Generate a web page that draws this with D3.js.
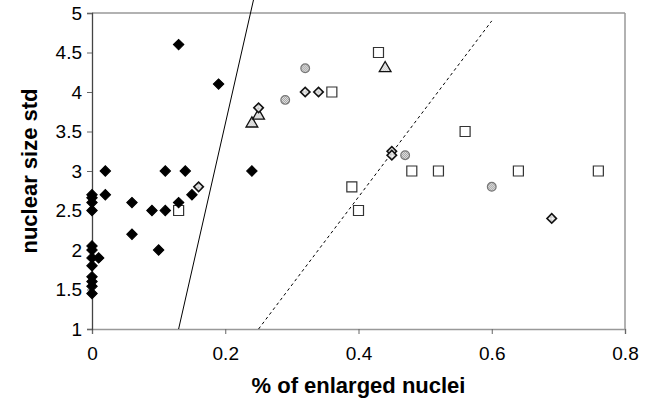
<!DOCTYPE html>
<meta charset="utf-8">
<style>
body { margin: 0; background: #fff; }
svg { display: block; font-family: Arial, "Liberation Sans", sans-serif; }
.tick text { font-size: 19px; fill: #000; }
.title { font-weight: bold; font-size: 22px; }
</style>
<svg width="651" height="419"></svg>
<script src="https://d3js.org/d3.v7.min.js"></script>
<script>

// filled black diamonds
var solidX = [0, 0, 0, 0, 0, 0, 0, 0, 0, 0, 0, 0,
  0.01, 0.02, 0.02, 0.06, 0.06, 0.09, 0.10, 0.11, 0.11, 0.13, 0.13, 0.14, 0.15, 0.19, 0.24];
var solidY = [2.7, 2.66, 2.6, 2.5, 2.05, 2.0, 1.9, 1.8, 1.66, 1.6, 1.54, 1.45,
  1.9, 2.7, 3.0, 2.6, 2.2, 2.5, 2.0, 2.5, 3.0, 2.6, 4.6, 3.0, 2.7, 4.1, 3.0];

// open (hatched) diamonds
var openDiaX = [0.16, 0.25, 0.32, 0.34, 0.45, 0.45, 0.69];
var openDiaY = [2.8, 3.8, 4.0, 4.0, 3.25, 3.2, 2.4];

// triangles
var triX = [0.24, 0.25, 0.44];
var triY = [3.6, 3.7, 4.3];

// circles
var circX = [0.29, 0.32, 0.47, 0.60];
var circY = [3.9, 4.3, 3.2, 2.8];

// open squares
var sqX = [0.13, 0.36, 0.39, 0.40, 0.43, 0.48, 0.52, 0.56, 0.64, 0.76];
var sqY = [2.5, 4.0, 2.8, 2.5, 4.5, 3.0, 3.0, 3.5, 3.0, 3.0];

// separating lines
var solidLine = [[0.13, 1], [0.2425, 5.17]];
var dashLine = [[0.25, 1], [0.6, 4.9]];

var xTicks = [0, 0.2, 0.4, 0.6, 0.8];
var yTicks = [1, 1.5, 2, 2.5, 3, 3.5, 4, 4.5, 5];

var svg = d3.select("svg"),
    margin = {top: 13, right: 26, bottom: 90, left: 92},
    width = +svg.attr("width") - margin.left - margin.right,
    height = +svg.attr("height") - margin.top - margin.bottom;

var defs = svg.append("defs");
function hatch(id, col) {
  var pat = defs.append("pattern")
      .attr("id", id)
      .attr("width", 2).attr("height", 2)
      .attr("patternUnits", "userSpaceOnUse");
  pat.append("rect").attr("width", 2).attr("height", 2).attr("fill", "#fff");
  pat.append("rect").attr("width", 1).attr("height", 1).attr("fill", col);
  pat.append("rect").attr("x", 1).attr("y", 1).attr("width", 1).attr("height", 1).attr("fill", col);
}
hatch("hatch", "#888");
hatch("hatchLight", "#bbb");

var g = svg.append("g").attr("transform", "translate(" + margin.left + "," + margin.top + ")");

var x = d3.scaleLinear().domain([0, 0.8]).range([0, width]);
var y = d3.scaleLinear().domain([1, 5]).range([height, 0]);

// frame
g.append("line").attr("x1", 0).attr("x2", width).attr("y1", 0).attr("y2", 0)
    .attr("stroke", "#999").attr("stroke-width", 1.5);
g.append("line").attr("x1", width).attr("x2", width).attr("y1", 0).attr("y2", height)
    .attr("stroke", "#999").attr("stroke-width", 1.5);

var xAxis = g.append("g")
    .attr("transform", "translate(0," + height + ")")
    .call(d3.axisBottom(x).tickValues(xTicks).tickSize(5).tickPadding(13)
      .tickFormat(function(d){ return d === 0 ? "0" : d3.format(".1f")(d); }));
xAxis.select(".domain").attr("stroke", "#999").attr("stroke-width", 1.5);
xAxis.selectAll(".tick line").attr("stroke", "#666");

var yAxis = g.append("g")
    .call(d3.axisLeft(y).tickValues(yTicks).tickSize(5).tickPadding(5)
      .tickFormat(function(d){ return String(d); }));
yAxis.select(".domain").attr("stroke", "#444").attr("stroke-width", 1.3);
yAxis.selectAll(".tick line").attr("stroke", "#666");

// lines
var line = d3.line().x(function(d){ return x(d[0]); }).y(function(d){ return y(d[1]); });
g.append("path").attr("d", line(solidLine)).attr("stroke", "#000").attr("stroke-width", 1).attr("fill", "none");
g.append("path").attr("d", line(dashLine)).attr("stroke", "#000").attr("stroke-width", 1)
    .attr("stroke-dasharray", "3,3").attr("fill", "none");

function plot(xs, ys, type, size, rot, fill, stroke, sw) {
  var sym = d3.symbol().type(type).size(size);
  g.selectAll(null).data(d3.zip(xs, ys)).enter().append("path")
    .attr("d", sym)
    .attr("transform", function(d){ return "translate(" + x(d[0]) + "," + y(d[1]) + ") rotate(" + rot + ")"; })
    .attr("fill", fill).attr("stroke", stroke).attr("stroke-width", sw);
}

plot(sqX, sqY, d3.symbolSquare, 100, 0, "#fff", "#333", 1.2);
plot(circX, circY, d3.symbolCircle, 60, 0, "url(#hatch)", "#777", 1.2);
plot(triX, triY, d3.symbolTriangle, 60, 0, "url(#hatchLight)", "#111", 1.3);
plot(openDiaX, openDiaY, d3.symbolSquare, 45, 45, "url(#hatchLight)", "#111", 1.6);
plot(solidX, solidY, d3.symbolSquare, 55, 45, "#000", "#000", 1);

// titles
svg.append("text").attr("class", "title")
    .attr("x", margin.left + width / 2).attr("y", 393)
    .attr("text-anchor", "middle").text("% of enlarged nuclei");
svg.append("text").attr("class", "title")
    .attr("transform", "translate(37," + (margin.top + height / 2) + ") rotate(-90)")
    .attr("text-anchor", "middle").text("nuclear size std");

</script>
